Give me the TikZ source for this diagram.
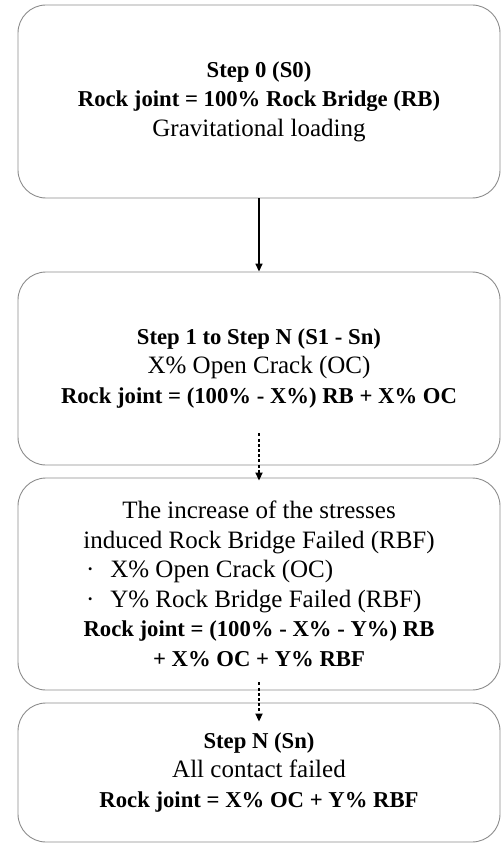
\documentclass[tikz,border=0pt]{standalone}
\usepackage{fontspec}
\setmainfont{Liberation Serif}
\usetikzlibrary{arrows.meta}
\newcommand\boldline[1]{{\fontsize{22.7}{29.5}\selectfont\bfseries #1}}

\begin{document}
\begin{tikzpicture}[x=1pt,y=-1pt,
    stepbox/.style={draw=black!45, line width=0.9pt, rounded corners=28pt,
      minimum width=482pt, align=center, inner sep=0pt,
      font=\fontsize{25}{29.5}\selectfont},
    solidarrow/.style={line width=1.6pt, -{Triangle[length=8pt,width=7pt]}},
    dotarrow/.style={line width=1.8pt, dash pattern=on 3pt off 2.2pt,
      -{Triangle[length=8pt,width=7pt]}}]
  \useasboundingbox (0,0) rectangle (503,845);
  % boxes
  \node[stepbox, minimum height=193pt] (s0) at (259,101.5)
    {\boldline{Step 0 (S0)}\\
     \boldline{Rock joint = 100\% Rock Bridge (RB)}\\
     Gravitational loading};
  \node[stepbox, minimum height=193pt] (s1) at (259,368.5)
    {\boldline{Step 1 to Step N (S1 - Sn)}\\
     X\% Open Crack (OC)\\
     \boldline{Rock joint = (100\% - X\%) RB + X\% OC}};
  \node[stepbox, minimum height=212pt] (rbf) at (259,584)
    {The increase of the stresses\\
     induced Rock Bridge Failed (RBF)\\
     \makebox[346pt][l]{\textperiodcentered\hspace{16pt}X\% Open Crack (OC)}\\
     \makebox[346pt][l]{\textperiodcentered\hspace{16pt}Y\% Rock Bridge Failed (RBF)}\\
     \boldline{Rock joint = (100\% - X\% - Y\%) RB}\\
     \boldline{+ X\% OC + Y\% RBF}};
  \node[stepbox, minimum height=139pt] (sn) at (259,772.5)
    {\boldline{Step N (Sn)}\\
     All contact failed\\
     \boldline{Rock joint = X\% OC + Y\% RBF}};
  % connectors
  \draw[solidarrow] (s0.south) -- (s1.north);
  \draw[dotarrow] ([yshift=32pt]s1.south) -- ([yshift=-3pt]rbf.north);
  \draw[dotarrow] ([yshift=8pt]rbf.south) -- ([yshift=-19pt]sn.north);
\end{tikzpicture}
\end{document}
